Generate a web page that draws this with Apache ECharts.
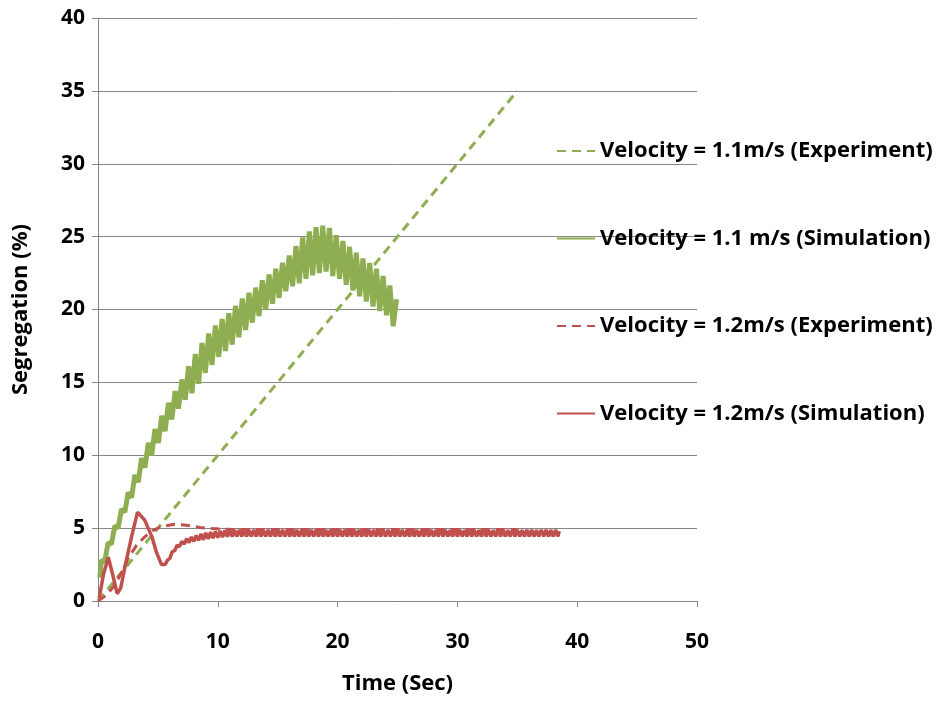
<!DOCTYPE html>
<html>
<head>
<meta charset="utf-8">
<script src="https://cdn.jsdelivr.net/npm/echarts@6/dist/echarts.min.js"></script>
<style>
html,body{margin:0;padding:0;background:#fff;}
#chart{width:939px;height:703px;}
</style>
</head>
<body>
<div id="chart"></div>
<script>
const seriesNames = [
  "Velocity = 1.1m/s (Experiment)",
  "Velocity = 1.1 m/s (Simulation)",
  "Velocity = 1.2m/s (Experiment)",
  "Velocity = 1.2m/s (Simulation)"
];
const xAxisTicks = [0, 10, 20, 30, 40, 50];
const yAxisTicks = [0, 5, 10, 15, 20, 25, 30, 35, 40];

const exp11 = [[0,0],[35,35]];

const sim11 = [[0.15,1.6],[0.28,2.8],[0.56,2.7],[0.84,4.0],[1.12,3.9],[1.40,5.15],[1.68,5.0],[1.96,6.3],[2.24,6.1],[2.52,7.45],[2.80,7.1],[3.08,8.65],[3.36,8.15],[3.64,9.8],[3.92,9.15],[4.20,10.85],[4.48,10.0],[4.76,11.8],[5.04,10.85],[5.32,12.7],[5.60,11.65],[5.88,13.6],[6.16,12.45],[6.44,14.4],[6.72,13.2],[7.00,15.2],[7.28,13.8],[7.56,16.1],[7.84,14.25],[8.12,16.95],[8.40,14.9],[8.68,17.7],[8.96,15.65],[9.24,18.35],[9.52,16.2],[9.80,18.9],[10.08,16.75],[10.36,19.35],[10.64,17.15],[10.92,19.75],[11.20,17.6],[11.48,20.25],[11.76,18.1],[12.04,20.75],[12.32,18.6],[12.60,21.15],[12.88,19.1],[13.16,21.5],[13.44,19.55],[13.72,22.0],[14.00,20.0],[14.28,22.4],[14.56,20.4],[14.84,22.8],[15.12,20.8],[15.40,23.2],[15.68,21.25],[15.96,23.7],[16.24,21.6],[16.52,24.35],[16.80,21.8],[17.08,24.95],[17.36,22.1],[17.64,25.35],[17.92,22.35],[18.20,25.65],[18.48,22.5],[18.76,25.75],[19.04,22.6],[19.32,25.6],[19.60,22.3],[19.88,25.1],[20.16,22.1],[20.44,24.7],[20.72,21.7],[21.00,24.3],[21.28,21.3],[21.56,23.9],[21.84,20.9],[22.12,23.5],[22.40,20.55],[22.68,23.2],[22.96,20.2],[23.24,22.8],[23.52,19.9],[23.80,22.3],[24.08,19.6],[24.36,21.65],[24.64,18.85],[24.92,20.7]];

const exp12 = [[0,0],[0.7,0.4],[1.4,1.1],[2.0,2.0],[2.5,2.9],[3.2,3.8],[3.9,4.4],[4.6,4.85],[5.3,5.1],[6.4,5.26],[7.2,5.22],[7.8,5.15],[8.5,5.05],[9.2,4.98],[10.5,4.92],[12,4.9],[20,4.9],[35,4.9]];

const sim12 = [[0.1,0.2],[0.45,1.8],[0.86,3.0],[1.2,1.9],[1.6,0.5],[1.9,0.9],[2.25,2.35],[2.8,4.4],[3.3,6.1],[3.9,5.55],[4.5,4.4],[4.9,3.3],[5.3,2.5],[5.6,2.5],
[5.8,2.8],[6.0,2.92],[6.2,3.39],[6.4,3.45],[6.6,3.83],[6.8,3.73],[7.0,4.09],[7.2,3.91],[7.4,4.27],[7.6,4.01],[7.8,4.39],[8.0,4.09],[8.2,4.50],[8.4,4.15],[8.6,4.60],[8.8,4.20],[9.0,4.67],[9.2,4.26],[9.4,4.73],[9.6,4.31],[9.8,4.77],[10.0,4.35],[10.2,4.81],[10.4,4.38],[10.6,4.84],[10.8,4.41],[11.0,4.86],[11.2,4.42],[11.4,4.87],[11.6,4.43],
[11.8,4.88],[12.0,4.43],[12.2,4.88],[12.4,4.44],[12.6,4.87],[12.8,4.43],[13.0,4.88],[13.2,4.43],[13.4,4.88],[13.6,4.44],
[13.8,4.87],[14.0,4.43],[14.2,4.88],[14.4,4.43],[14.6,4.88],[14.8,4.44],[15.0,4.87],[15.2,4.43],[15.4,4.88],[15.6,4.43],
[15.8,4.88],[16.0,4.44],[16.2,4.87],[16.4,4.43],[16.6,4.88],[16.8,4.43],[17.0,4.88],[17.2,4.44],[17.4,4.87],[17.6,4.43],
[17.8,4.88],[18.0,4.43],[18.2,4.88],[18.4,4.44],[18.6,4.87],[18.8,4.43],[19.0,4.88],[19.2,4.43],[19.4,4.88],[19.6,4.44],
[19.8,4.87],[20.0,4.43],[20.2,4.88],[20.4,4.43],[20.6,4.88],[20.8,4.44],[21.0,4.87],[21.2,4.43],[21.4,4.88],[21.6,4.43],
[21.8,4.88],[22.0,4.44],[22.2,4.87],[22.4,4.43],[22.6,4.88],[22.8,4.43],[23.0,4.88],[23.2,4.44],[23.4,4.87],[23.6,4.43],
[23.8,4.88],[24.0,4.43],[24.2,4.88],[24.4,4.44],[24.6,4.87],[24.8,4.43],[25.0,4.88],[25.2,4.43],[25.4,4.88],[25.6,4.44],
[25.8,4.87],[26.0,4.43],[26.2,4.88],[26.4,4.43],[26.6,4.88],[26.8,4.44],[27.0,4.87],[27.2,4.43],[27.4,4.88],[27.6,4.43],
[27.8,4.88],[28.0,4.44],[28.2,4.87],[28.4,4.43],[28.6,4.88],[28.8,4.43],[29.0,4.88],[29.2,4.44],[29.4,4.87],[29.6,4.43],
[29.8,4.88],[30.0,4.43],[30.2,4.88],[30.4,4.44],[30.6,4.87],[30.8,4.43],[31.0,4.88],[31.2,4.43],[31.4,4.88],[31.6,4.44],
[31.8,4.87],[32.0,4.43],[32.2,4.88],[32.4,4.43],[32.6,4.88],[32.8,4.44],[33.0,4.87],[33.2,4.43],[33.4,4.88],[33.6,4.43],
[33.8,4.88],[34.0,4.44],[34.2,4.87],[34.4,4.43],[34.6,4.88],[34.8,4.43],[35.0,4.88],[35.2,4.44],[35.4,4.87],[35.6,4.43],
[35.8,4.88],[36.0,4.43],[36.2,4.88],[36.4,4.44],[36.6,4.87],[36.8,4.43],[37.0,4.88],[37.2,4.43],[37.4,4.88],[37.6,4.44],
[37.8,4.87],[38.0,4.43],[38.2,4.88],[38.4,4.44],[38.5,4.8]];

const GREEN = '#8FAE52';
const RED = '#C0504D';
const FONT = 'Open Sans';

const chart = echarts.init(document.getElementById('chart'), null, {renderer:'canvas'});
chart.setOption({
  animation: false,
  backgroundColor: '#ffffff',
  textStyle: {fontFamily: FONT},
  grid: {left: 98, right: 242, top: 18, bottom: 102, containLabel: false},
  legend: {
    orient: 'vertical',
    left: 556,
    top: 139,
    padding: 0,
    itemGap: 63.5,
    itemWidth: 38,
    itemHeight: 14,
    itemStyle: {opacity: 0},
    textStyle: {fontFamily: FONT, fontWeight: 'bold', fontSize: 22, lineHeight: 24, color: '#000'},
    data: seriesNames
  },
  xAxis: {
    type: 'value',
    min: xAxisTicks[0],
    max: xAxisTicks[xAxisTicks.length-1],
    interval: 10,
    name: 'Time (Sec)',
    nameLocation: 'middle',
    nameGap: 72,
    nameTextStyle: {fontFamily: FONT, fontWeight: 'bold', fontSize: 22, color: '#000'},
    axisLine: {lineStyle: {color: '#868686', width: 1}},
    axisTick: {show: true, length: 6, lineStyle: {color: '#868686'}},
    axisLabel: {margin: 31, fontFamily: FONT, fontWeight: 'bold', fontSize: 21, color: '#000'},
    splitLine: {show: false}
  },
  yAxis: {
    type: 'value',
    min: yAxisTicks[0],
    max: yAxisTicks[yAxisTicks.length-1],
    interval: 5,
    name: 'Segregation (%)',
    nameLocation: 'middle',
    nameGap: 66,
    nameRotate: 90,
    nameTextStyle: {fontFamily: FONT, fontWeight: 'bold', fontSize: 22, color: '#000'},
    axisLine: {show: true, lineStyle: {color: '#868686', width: 1}},
    axisTick: {show: true, length: 6, lineStyle: {color: '#868686'}},
    axisLabel: {margin: 13, fontFamily: FONT, fontWeight: 'bold', fontSize: 21, color: '#000'},
    splitLine: {show: true, lineStyle: {color: '#868686', width: 1}}
  },
  series: [
    {name: seriesNames[0], type: 'line', data: exp11, symbol: 'none', lineStyle: {color: GREEN, width: 3, type: [9,6]}, itemStyle: {color: GREEN}, z: 2},
    {name: seriesNames[1], type: 'line', data: sim11, symbol: 'none', lineStyle: {color: GREEN, width: 5}, itemStyle: {color: GREEN}, z: 3},
    {name: seriesNames[2], type: 'line', data: exp12, symbol: 'none', lineStyle: {color: RED, width: 3, type: [9,6]}, itemStyle: {color: RED}, z: 4},
    {name: seriesNames[3], type: 'line', data: sim12, symbol: 'none', lineStyle: {color: RED, width: 3.5}, itemStyle: {color: RED}, z: 5}
  ]
});
</script>
</body>
</html>
